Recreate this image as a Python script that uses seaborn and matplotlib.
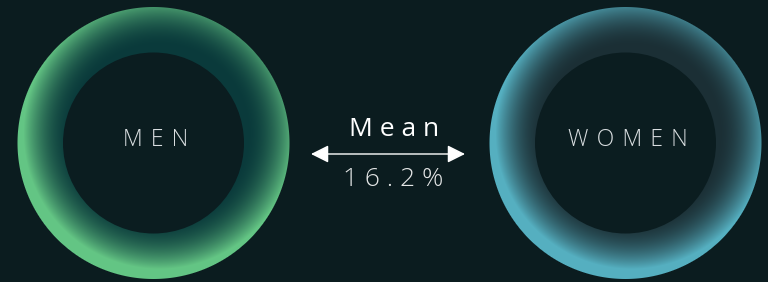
import numpy as np
import matplotlib.pyplot as plt
import seaborn as sns
from matplotlib.colors import to_rgb
from matplotlib.patches import Circle

# data
groups = ["MEN", "WOMEN"]
mean_label = "Mean"
mean_gap = 16.2

bg = "#0b1c1f"
inner_fill = "#0b1d20"
ring_in = ["#0a3a3b", "#1b2f35"]
ring_out = ["#64c584", "#55afc0"]

sns.set_theme(style="dark", rc={"axes.facecolor": bg, "figure.facecolor": bg})
plt.rcParams["font.family"] = ["Open Sans", "DejaVu Sans"]


def ring(ax, cx, cy, R, r, c_in, c_out, shift):
    xs = np.arange(np.floor(cx - R) - 2, np.ceil(cx + R) + 2) + 0.5
    ys = np.arange(np.floor(cy - R) - 2, np.ceil(cy + R) + 2) + 0.5
    X, Y = np.meshgrid(xs, ys)
    d = np.hypot(X - cx, Y - cy)
    d2 = np.hypot(X - cx - shift[0], Y - cy - shift[1])
    t = np.clip((d2 - r + 4) / (R - r + 4), 0, 1) ** 1.9
    c_in, c_out = np.array(to_rgb(c_in)), np.array(to_rgb(c_out))
    rgb = c_in + (c_out - c_in) * t[..., None]
    alpha = np.clip(R - d + 0.5, 0, 1)
    img = np.dstack([rgb, alpha])
    ax.imshow(img, extent=(xs[0] - 0.5, xs[-1] + 0.5, ys[-1] + 0.5, ys[0] - 0.5),
              interpolation="nearest", aspect="auto", zorder=1)
    ax.add_patch(Circle((cx, cy), r, color=inner_fill, zorder=2, lw=0))


fig = plt.figure(figsize=(7.68, 2.82), dpi=100)
ax = fig.add_axes([0, 0, 1, 1])

centers = [(153.5, 143), (625.5, 143)]
for i, g in enumerate(groups):
    cx, cy = centers[i]
    ring(ax, cx, cy, 136, 90.5, ring_in[i], ring_out[i], (6, -10))
    ax.text(cx + 2, cy - 3, " \u200a".join(g), ha="center", va="center", fontsize=16.5,
            fontweight="light", color="#d9dee0", zorder=3)

ax.annotate("", xy=(465, 154), xytext=(311, 154),
            arrowprops=dict(arrowstyle="<|-|>,head_length=1.08,head_width=0.54",
                            color="white", lw=1, mutation_scale=10, shrinkA=0, shrinkB=0))
ax.text(394, 129, " ".join(mean_label), ha="center", va="center", fontsize=19,
        color="white", zorder=3)
ax.text(393, 180, " ".join(f"{mean_gap:.1f}%"), ha="center", va="center", fontsize=19,
        fontweight="light", color="#e4e6e6", zorder=3)

ax.set_xlim(0, 768)
ax.set_ylim(282, 0)
ax.axis("off")
fig.savefig("out.png", dpi=100, facecolor=bg)
